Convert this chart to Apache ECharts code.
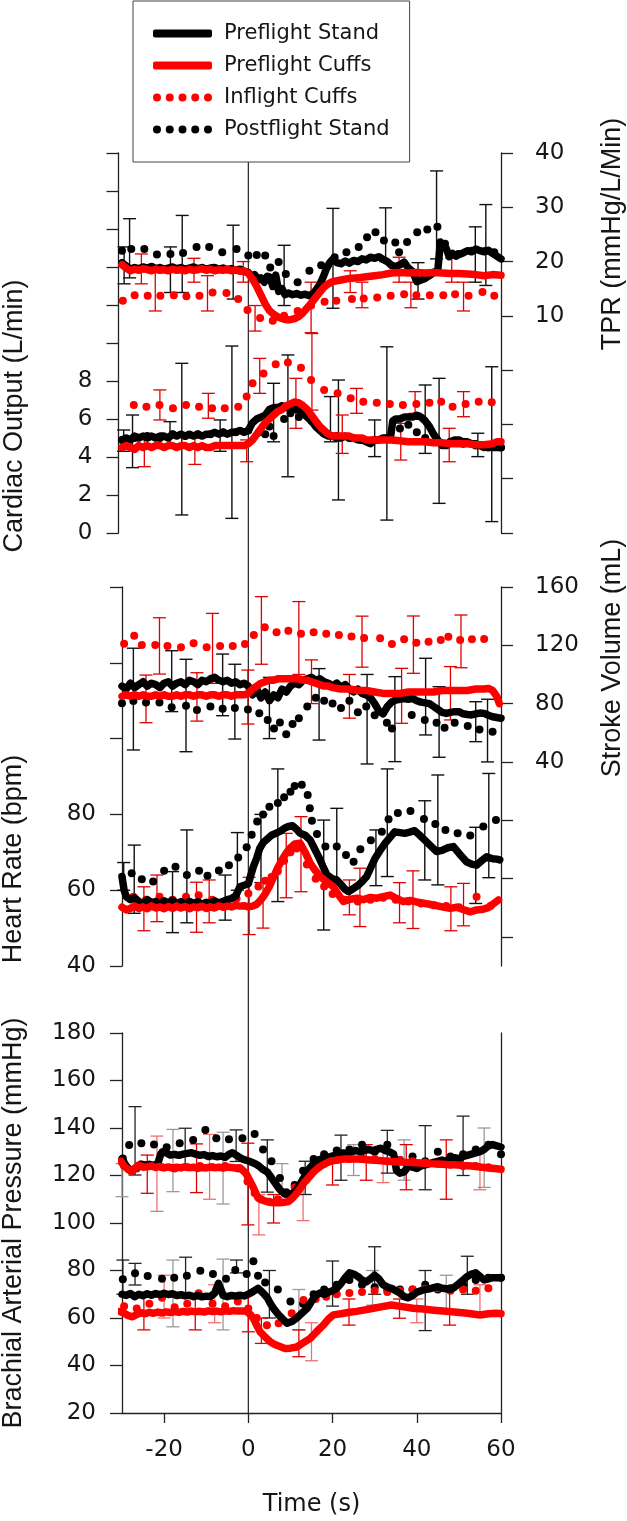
<!DOCTYPE html>
<html><head><meta charset="utf-8">
<script src="https://cdn.jsdelivr.net/npm/echarts@6/dist/echarts.min.js"></script>
<style>html,body{margin:0;padding:0;background:#fff}#c{width:627px;height:1521px}</style>
</head><body><div id="c"></div>
<script>
// ---------- data ----------
const timeTicks = [-20, 0, 20, 40, 60];
const coLabels = [0, 2, 4, 6, 8];
const tprLabels = [10, 20, 30, 40];
const hrLabels = [40, 60, 80];
const svTicks = [-80, -40, 0, 40, 80, 120, 160];
const svLabels = [40, 80, 120, 160];
const refLine = [[0, 0], [0, 1]];

// TPR (mmHg/L/min)
const tprPreStand = [[-30,19.8],[-29,19.2],[-28,18.6],[-27,18.9],[-26,18.7],[-25,19.0],[-24,18.8],[-23,19.1],[-22,18.7],[-21,18.9],[-20,18.6],[-19,18.8],[-18,19.0],[-17,18.7],[-16,18.9],[-15,18.6],[-14,18.8],[-13,19.0],[-12,18.7],[-11,18.9],[-10,18.6],[-9,18.8],[-8,18.9],[-7,18.6],[-6,18.8],[-5,18.5],[-4,18.7],[-3,18.4],[-2,18.6],[-1,18.2],[0,18.0],[0.8,17.2],[1.5,17.6],[2.3,16.6],[3,17.0],[3.8,16.2],[4.5,17.3],[5.2,17.1],[5.8,15.4],[6.5,17.5],[7.2,14.5],[8,15.0],[8.7,13.9],[9.5,14.2],[10.5,13.9],[11.5,14.1],[12.5,13.8],[13.5,14.0],[14.5,13.7],[15.5,14.2],[16.3,15.0],[17,15.8],[17.8,17.2],[18.5,18.6],[19.3,19.8],[20,20.4],[21,19.8],[22,19.6],[23,20.1],[24,19.7],[25,20.2],[26,20.0],[27,20.5],[28,20.3],[29,20.8],[30,20.6],[31,20.9],[32,20.4],[33,20.0],[34,19.3],[35,19.1],[36,19.4],[37,19.9],[38,18.8],[39,18.2],[40,16.3],[41,16.6],[42,16.9],[43,17.4],[44,18.0],[45,18.4],[45.6,23.6],[46.3,23.0],[47,22.4],[47.7,20.9],[48.5,21.5],[49.3,21.0],[50,21.3],[51,21.6],[52,22.0],[53,21.8],[54,22.3],[55,22.0],[56,21.8],[57,22.1],[58,21.5],[59,21.0],[60,20.5]];
const tprPreCuffs = [[-30,19.4],[-29,18.8],[-28,18.3],[-27,18.6],[-26,18.4],[-25,18.7],[-24,18.5],[-23,18.3],[-22,18.6],[-21,18.4],[-20,18.5],[-19,18.3],[-18,18.6],[-17,18.4],[-16,18.5],[-15,18.3],[-14,18.6],[-13,18.4],[-12,18.5],[-11,18.7],[-10,18.4],[-9,18.6],[-8,18.3],[-7,18.5],[-6,18.4],[-5,18.6],[-4,18.3],[-3,18.5],[-2,18.2],[-1,18.3],[0,17.8],[1,16.8],[2,15.4],[3,13.8],[4,12.2],[5,11.0],[6,10.3],[7,9.8],[8,9.5],[9,9.3],[10,9.3],[11,9.5],[12,9.9],[13,10.6],[14,11.5],[15,12.4],[16,13.4],[17,14.4],[18,15.3],[19,15.9],[20,16.3],[22,16.6],[24,16.9],[26,17.0],[28,17.2],[30,17.4],[32,17.6],[34,17.9],[36,18.0],[38,17.9],[40,18.0],[42,17.9],[44,18.0],[46,17.9],[48,17.8],[50,17.8],[52,17.7],[54,17.6],[56,17.4],[58,17.6],[60,17.5]];
const tprInCuffs = [[-29.8,12.8],[-27,13.8],[-23.9,13.7],[-20.9,13.7],[-17.7,13.8],[-14.7,13.6],[-11.6,13.7],[-8.5,14.3],[-5.2,14.2],[-2.4,13.1],[-0.2,11.1],[2.8,9.6],[5.8,9.1],[8.5,10.0],[11.7,10.9],[14.9,11.9],[18.1,12.6],[20.9,12.8],[24.6,13.1],[27.4,13.2],[30.6,13.4],[33.8,13.7],[37,14.0],[39.9,13.8],[43.1,13.8],[46.3,13.8],[49.1,14.0],[52.3,13.7],[55.6,14.4],[58.4,13.7]];
const tprPostStand = [[-30,22.0],[-27.8,22.3],[-24.7,22.3],[-21.7,21.3],[-18.5,21.4],[-15.5,21.6],[-12.3,22.7],[-9.3,22.7],[-6.2,21.7],[-2.8,22.3],[0,21.1],[2,21.2],[4,21.1],[5.2,18.9],[7.2,19.9],[8.9,17.7],[11.7,16.2],[14.5,18.3],[17.3,19.3],[20.5,20.8],[23.3,21.7],[26.2,22.7],[28.2,24.5],[30.2,25.4],[32.2,23.9],[34.9,23.5],[35.8,21.7],[37.7,23.6],[40.1,25.4],[42.5,25.9],[44.9,26.4],[46.7,23.3],[49.9,21.4],[53.1,22.0],[56.4,22.0],[58.4,21.7]];
const tprErrBlack = [[-29.5,15.9,22.7],[-28.2,17,27.9],[-18.5,14.3,22.7],[-15.7,14.3,28.5],[-3.6,13.1,26.7],[8.5,11.9,23.0],[20.1,11.4,29.8],[32.6,20.0,29.9],[40.3,13.1,19.8],[44.7,20.5,36.7],[53.9,16.2,26.4],[56.4,15.6,30.5]];
const tprErrRed = [[-25.4,15.9,21.4],[-22.1,10.9,18.0],[-12.9,16.2,20.6],[-9.7,10.9,17.4],[-1.2,16.2,20.0],[1.6,7.2,11.9],[14.9,6.9,16.2],[24.2,14.3,18.3],[27,11.5,16.2],[35.8,16.2,20.8],[38.6,11.5,16.2],[48.3,16.2,20.6],[51.1,10.9,16.2]];

// Cardiac output (L/min)
const coPreStand = [[-30,4.9],[-29,5.0],[-28,4.9],[-27,5.1],[-26,5.0],[-25,5.1],[-24,5.0],[-23,5.1],[-22,5.0],[-21,5.1],[-20,5.1],[-19,5.0],[-18,5.2],[-17,5.1],[-16,5.2],[-15,5.1],[-14,5.2],[-13,5.1],[-12,5.2],[-11,5.1],[-10,5.2],[-9,5.2],[-8,5.3],[-7,5.2],[-6,5.3],[-5,5.2],[-4,5.3],[-3,5.3],[-2,5.4],[-1,5.3],[0,5.4],[1,5.8],[2,6.0],[3,6.1],[4,6.2],[5,6.5],[6,6.6],[7,6.6],[8,6.7],[9,6.6],[10,6.6],[11,6.5],[12,6.5],[13,6.3],[14,6.1],[15,5.9],[16,5.6],[17,5.4],[18,5.2],[19,5.1],[20,5.1],[21,5.0],[22,5.0],[23,5.1],[24,5.0],[25,5.0],[26,4.9],[27,4.9],[28,4.8],[29,4.7],[30,4.9],[31,4.9],[32,5.0],[33,5.0],[33.8,5.1],[34.3,5.9],[35,6.0],[36,6.0],[37,6.1],[38,6.1],[39,6.1],[40,6.2],[41,6.1],[42,5.9],[43,5.6],[44,5.2],[45,4.9],[46,4.6],[47,4.6],[48,4.8],[49,4.9],[50,4.9],[51,4.8],[52,4.8],[53,4.7],[54,4.7],[55,4.6],[56,4.5],[57,4.6],[58,4.5],[59,4.5],[60,4.5]];
const coPreCuffs = [[-30,4.5],[-29,4.6],[-28,4.5],[-27,4.4],[-26,4.6],[-25,4.5],[-24,4.6],[-23,4.5],[-22,4.6],[-21,4.6],[-20,4.5],[-19,4.6],[-18,4.6],[-17,4.5],[-16,4.6],[-15,4.6],[-14,4.5],[-13,4.6],[-12,4.5],[-11,4.6],[-10,4.5],[-9,4.5],[-8,4.6],[-7,4.6],[-6,4.6],[-5,4.6],[-4,4.6],[-3,4.6],[-2,4.6],[-1,4.6],[0,4.7],[1,4.9],[2,5.2],[3,5.5],[4,5.8],[5,6.0],[6,6.2],[7,6.4],[8,6.5],[9,6.7],[10,6.8],[11,6.9],[12,6.85],[13,6.7],[14,6.5],[15,6.2],[16,5.9],[17,5.6],[18,5.4],[19,5.2],[20,5.1],[21,5.1],[22,5.1],[23,5.1],[24,5.1],[25,5.0],[26,5.0],[27,5.0],[28,4.9],[29,4.9],[30,4.9],[32,4.9],[34,4.9],[36,4.85],[38,4.8],[40,4.8],[42,4.8],[44,4.75],[46,4.75],[48,4.7],[50,4.7],[52,4.7],[54,4.65],[56,4.65],[58,4.7],[59,4.8],[60,4.8]];
const coInCuffs = [[-30.1,7.05],[-27.2,6.74],[-24.2,6.65],[-21.1,6.74],[-17.9,6.56],[-14.8,6.74],[-11.7,6.65],[-8.6,6.56],[-5.6,6.56],[-2.4,6.65],[-0.4,7.18],[1,7.88],[3.6,8.4],[6.5,8.88],[9.4,8.98],[12.5,8.7],[14.9,8.05],[18,7.53],[21.2,7.35],[24.3,7.09],[27.3,6.91],[30.5,6.86],[33.6,6.79],[36.7,6.74],[39.9,6.79],[43,6.86],[45.8,6.91],[48.5,6.65],[51.6,6.79],[54.7,6.91],[57.8,6.88]];
const coPostStand = [[-30,4.9],[-27,5.0],[-24,5.1],[-21,5.0],[-18,5.2],[-15,5.1],[-12,5.2],[-9,5.2],[-6,5.3],[-3,5.3],[0,5.4],[2.5,5.3],[4,5.2],[5,5.6],[6,5.1],[8.5,6.0],[10,6.3],[12,6.1],[15,5.9],[18,5.3],[21,5.1],[24,5.0],[27,4.9],[30,4.9],[33,5.0],[36,5.5],[38,5.7],[40,5.3],[42,5.0],[45,4.8],[48,4.8],[51,4.7],[54,4.6],[57,4.5],[60,4.5]];
const coErrBlack = [[-29.6,4.3,5.42],[-27.5,3.44,6.21],[-18.6,4.5,5.86],[-15.8,0.95,8.93],[-6.7,4.3,5.95],[-3.9,0.77,9.84],[6,4.8,7.88],[9.4,2.96,9.37],[19.5,4.8,7.18],[21.4,1.74,8.05],[30,4.02,5.95],[32.9,0.68,9.8],[42,4.19,7.79],[45.3,1.56,8.14],[54.5,4.02,5.25],[57.8,0.6,8.75]];
const coErrRed = [[-24.7,3.49,4.98],[-21,5.95,7.53],[-12.7,3.61,5.0],[-9.5,6.04,7.35],[-0.4,3.75,4.9],[2.7,7.35,9.19],[11.3,5.51,8.14],[15.1,6.47,10.5],[22.3,4.19,6.21],[25.7,6.3,7.61],[36.2,3.84,5.77],[39.6,6.3,7.44],[47.7,3.75,5.51],[51.1,6.12,7.44]];

// Stroke volume (mL)
const svPreStand = [[-30,92],[-29,90],[-28,94],[-27,91],[-26,93],[-25,95],[-24,92],[-23,94],[-22,93],[-21,91],[-20,94],[-19,95],[-18,92],[-17,94],[-16,95],[-15,93],[-14,96],[-13,95],[-12,93],[-11,96],[-10,95],[-9,97],[-8,98],[-7,96],[-6,95],[-5,96],[-4,94],[-3,95],[-2,93],[-1,94],[0,92],[1,86],[2,90],[3,84],[4,88],[5,82],[6,86],[7,84],[8,90],[9,88],[10,92],[11,94],[12,93],[13,96],[14,97],[15,98],[16,96],[17,97],[18,95],[19,94],[20,92],[21,94],[22,91],[23,93],[24,90],[25,88],[26,90],[27,87],[28,86],[29,84],[30,80],[31,75],[32,73],[33,78],[34,81],[35,82.5],[36,83],[37,83.5],[38,83],[39,83.6],[40,82],[41,81],[42,80.5],[43,80],[44,78],[45,76],[46,74],[47,73.3],[48,74],[49,74.5],[50,74.5],[51,73],[52,72.5],[53,72.2],[54,73],[55,73.5],[56,73.3],[57,72],[58,71],[59,70.5],[60,70]];
const svPreCuffs = [[-30,85],[-29,86],[-28,85],[-27,86],[-26,85],[-25,86],[-24,85],[-23,85],[-22,86],[-21,85],[-20,86],[-19,85],[-18,85],[-17,86],[-16,85],[-15,86],[-14,86],[-13,85],[-12,86],[-11,86],[-10,85],[-9,86],[-8,86],[-7,85],[-6,86],[-5,86],[-4,85],[-3,86],[-2,86],[-1,86],[0,87],[1,90],[2,92],[3,94],[4,95],[5,96],[6,96],[7,97],[8,97],[9,97],[10,97],[11,97],[12,97],[13,96],[14,96],[15,95],[16,94],[17,93],[18,92],[19,92],[20,91],[22,90],[24,90],[26,89],[28,89],[30,88],[32,87],[34,87],[36,87],[38,88],[40,88],[42,88],[44,88],[46,89],[48,89],[50,89],[52,89],[54,90],[56,90],[57,90.4],[58,89],[59,85],[59.6,80]];
const svInCuffs = [[-29.5,121],[-27.1,126.6],[-25.3,120.2],[-22.1,120.2],[-19.2,119.5],[-16,118.6],[-13,121.4],[-9.9,118.6],[-6.7,119.5],[-3.7,119.5],[-0.8,120.9],[1.3,127.1],[3.9,132.4],[6.7,128.9],[9.5,130],[12.5,128],[15.5,129],[18.5,128],[21.5,127],[24.5,126],[27.5,125],[31.3,124.8],[34.1,120.9],[37,124.1],[39.9,121.8],[42.8,122.5],[45.7,123.6],[47.5,125.9],[50.3,123.6],[53.1,124.1],[56,124.3]];
const svPostStand = [[-30,80.2],[-27.3,81.8],[-24.3,80.8],[-21.1,80.8],[-18.2,77.5],[-14.8,78.6],[-12.2,75.6],[-9,78],[-6.1,76.5],[-3.2,77],[-0.1,76],[2.6,73.4],[4.6,68.8],[6.1,63],[7.5,67],[9,59],[10.5,66],[12,70],[14,78],[16,84],[18,82],[20,80],[22,77],[24,82],[26,74],[28,78],[30,72],[32.9,66.9],[34.1,63],[38.8,72.2],[41.9,68.8],[44.7,66.9],[46.6,63.5],[49,66.9],[52.1,64.6],[54.9,62.3],[58,60.7]];
const svErrBlack = [[-27.3,48.2,118],[-18.2,74.5,116.3],[-14.8,47,110.4],[-6.1,71.7,114],[-3.2,55.7,107],[5,56,98],[16.8,55,104],[28.2,38.6,100],[34.8,40.2,98.5],[42.1,58.5,111.1],[45.3,43.2,91.6],[54,53.9,81.3],[56.8,40,83]];
const svErrRed = [[-24.3,66.9,99.6],[-21.1,100.3,138.9],[-12.2,68,101.2],[-8.5,93.9,141.9],[-0.1,66,103],[3.1,107,153.4],[12,100,150],[15,80,110],[24,70,100],[27,105,140],[36.4,66.5,104.2],[39.2,100.8,140.1],[48,68.8,105.4],[50.5,104.6,140.8]];

// Heart rate (bpm)
const hrPreStand = [[-30,63.6],[-29.5,60],[-29,58.3],[-28,57.5],[-27,58],[-26,57],[-25,56.5],[-24,57.5],[-23,56.8],[-22,57],[-21,56.3],[-20,57.2],[-19,56.6],[-18,57.4],[-17,56.5],[-16,57],[-15,56.3],[-14,57.1],[-13,56.5],[-12,57],[-11,56.2],[-10,56.8],[-9,56.5],[-8,57.2],[-7,56.6],[-6,57],[-5,57.5],[-4,57.8],[-3,58.5],[-2,60.9],[-1,61.3],[0,61.7],[0.6,64],[1.2,66.2],[2,68.5],[2.7,71],[3.5,72.5],[4.5,73.5],[5.5,74.5],[6.5,75],[7.5,75.5],[8.5,76.3],[9.5,76.8],[10.5,77],[11.5,76],[12.3,75],[13.5,74.5],[14.7,73.2],[15.7,71],[16.7,68.8],[17.7,66.3],[18.7,64],[20,63],[21,62.7],[22,61.5],[23,60.2],[23.8,59.6],[25,60.5],[26.2,61.4],[27.2,62.5],[28.1,63.6],[29,65.8],[30.1,68.4],[31.3,70.5],[32.5,72.4],[33.7,74],[34.8,75.4],[36,75.2],[37.2,75],[38.3,75.3],[39.5,75.7],[40.7,74.5],[41.9,73.2],[43.3,71.7],[44.7,70.2],[46,70.5],[47.3,71.2],[48.7,71.5],[50.2,69.5],[51.8,67.5],[53,66.9],[54.2,66.6],[55.4,67.8],[56.6,68.8],[58,68.3],[59,68.2],[59.7,68]];
const hrPreCuffs = [[-30,55.5],[-29,54.8],[-28,55.2],[-27,55.8],[-26,55.2],[-25,55.6],[-24,55.1],[-23,55.9],[-22,55.3],[-21,55.6],[-20,55.1],[-19,55.7],[-18,55.2],[-17,55.8],[-16,55.3],[-15,55.7],[-14,55.1],[-13,55.6],[-12,55.4],[-11,55.8],[-10,55.2],[-9,55.6],[-8,55.3],[-7,55.9],[-6,55.5],[-5,55.8],[-4,55.6],[-3,56],[-2,55.8],[-1,55.9],[0,55.6],[1,55.8],[2,56.3],[3,57.5],[4,59],[5,61],[6,63.5],[7,66],[8,68],[9,69.8],[10,71.2],[11,72.2],[12.3,72.4],[13.5,70],[14.7,67.1],[15.9,65.2],[17.1,63.6],[18.6,62.2],[20.2,60.9],[21.4,58.8],[22.6,57],[24.2,57.6],[25.8,57.9],[27.3,57.5],[29,58.1],[30.5,57.9],[32,58.3],[33.7,58.7],[35.2,57.8],[36.8,57],[38.5,57.3],[40.3,56.8],[42,56.5],[44,56.1],[46,55.6],[47.9,55.2],[49.5,55.5],[51,54.9],[52.7,54.3],[54.2,54.8],[55.8,55],[57,55.4],[57.8,56.1],[59.4,57.4]];
const hrInCuffs = [[-30.1,57],[-27.3,58.3],[-24.3,57.5],[-21.1,58.3],[-18,57.5],[-14.8,58.3],[-11.8,58.7],[-8.6,57.5],[-5.9,57],[-2.8,57.8],[0,59.1],[2.4,61],[4,62.5],[5.5,63.5],[7,65],[8.5,67.8],[10,70],[11.5,71],[13.9,66.8],[16,63],[18,61],[20,59],[23,57.5],[26,57],[29,57.5],[32,58],[35,57.5],[38,57],[41,56.5],[44,56],[47,55.8],[50,55.5],[54.2,58.3],[57.5,55.8]];
const hrPostStand = [[-30.1,63.6],[-27.7,64.5],[-25.3,62.9],[-22.6,62.3],[-20,65.1],[-17.3,66.2],[-14.6,64],[-11.7,65.1],[-9.7,63.8],[-7,65.2],[-4.6,66.6],[-2.4,68.6],[-0.4,71.3],[0.8,74.6],[2.1,78.1],[3.5,80],[5,82],[7,83],[8.5,84.5],[10,86],[11,87.5],[12.7,87.8],[14.1,85.1],[14.6,81.6],[15.1,78.3],[16.3,74.8],[18.3,71.5],[21,71.5],[23.2,69.3],[25,67.5],[26.6,70.8],[29.1,73.2],[31.7,75.4],[33.3,78.7],[35.5,80.4],[38.5,80.9],[41.7,78.8],[44.4,77.5],[46.8,75.9],[49.7,75],[52.7,74.4],[55.8,76.8],[58.8,78.5]];
const hrErrBlack = [[-29.6,60,67.3],[-27.1,53.9,71.9],[-18,48.8,64.9],[-14.6,51.4,75.9],[-5.5,52.1,64],[-2.6,60,75.2],[3,62,80],[7,57,92],[17.9,49.5,78.5],[21,62,81.6],[30.3,61.2,75.9],[33,63.6,92],[41.9,62.7,83.6],[45,61.4,90.4],[54,56.5,76.6],[57.1,63.3,90.8]];
const hrErrRed = [[-24.8,49.3,60.9],[-21.7,51.7,64],[-12.3,48.9,62.1],[-9.3,51.4,62.7],[0.2,48.3,63.4],[3.5,50,62],[9,58,75],[12.5,59.6,79.4],[24,53.5,62.7],[26.5,50.4,65.8],[35.9,51.4,62],[39.1,49.9,65.1],[48.1,49.3,60.9],[51.1,50.6,61.8]];

// Brachial arterial pressure (mmHg): systolic (sbp) and diastolic (dbp)
const sbpPreStand = [[-30,127],[-29,124],[-28,122],[-27.5,122.3],[-26.5,123.5],[-25.5,124.8],[-24.4,124.4],[-23.5,124.7],[-22.5,124.2],[-21.5,125],[-20.8,129],[-20.4,130],[-19.5,129.5],[-18.5,128.6],[-17.5,128.9],[-16.5,128.5],[-15.5,129],[-14.5,129.3],[-13.5,129.6],[-12.5,129],[-11.5,128.5],[-10.5,128.8],[-9.5,128],[-8.5,128.4],[-7.5,127.9],[-6.5,128.2],[-5.5,127.6],[-4.7,128.8],[-3.8,129.6],[-3,128.7],[-2,127.5],[-1.2,126.8],[-0.6,126.5],[0.5,125.8],[1.5,125.1],[2.5,124],[3.5,122.5],[4.5,121.5],[5.5,119],[6.5,116.5],[7.5,114],[8.5,112.5],[9.5,112],[10.5,112.5],[11.5,114],[12.5,117],[13.5,120],[14.5,123],[15.5,125],[16.5,126.5],[17.5,127],[18.5,127.5],[19.5,128],[20.5,128.5],[21.5,129],[22.5,129.5],[23.5,129],[24.5,130],[25.5,130.5],[26.5,130],[27.5,130.5],[28.5,131],[29.5,130.5],[30.5,131],[31.5,131.5],[32.5,130.5],[33.5,130],[34.5,129],[35.2,122],[36,121],[37,121.5],[38,124],[39,123.5],[40,123],[41,124],[42,124.5],[43,125],[44,125.5],[45,126],[46,126.5],[47,126],[48,127],[49,127.5],[50,127],[51,128],[52,128.5],[53,129],[54,129.5],[55,130],[56,131],[57,132.5],[58,133],[59,132.5],[60,132]];
const sbpPreCuffs = [[-30.3,126],[-29.5,124],[-28.5,122.5],[-27.7,121.7],[-27,123],[-26,124.4],[-25,123.5],[-24,123.7],[-23,124],[-22,123.4],[-21,123.8],[-20,123.2],[-19,123.6],[-18,123.1],[-17,123.5],[-16,123.2],[-15,123.7],[-14,123.3],[-13,123.5],[-12,123],[-11,123.4],[-10,123.2],[-9,123.6],[-8,123.3],[-7,123.5],[-6,123.1],[-5,123.5],[-4,123.4],[-3,123.2],[-2,123.3],[-1.6,123],[-0.6,121],[0.3,118],[1.1,115.3],[2.3,110.5],[3.5,109.5],[4.5,109],[5.5,108.6],[6.5,108.5],[7.5,108.5],[8.5,108.7],[9.5,109],[10.5,110.5],[11.5,112.5],[12.5,115],[13.5,117.5],[14.5,119.5],[15.5,121.5],[16.5,123],[17.5,124.3],[18.5,125.2],[19.5,126],[21,126.5],[23,127],[25,127],[27,126.8],[29,126.5],[31,126.3],[33,126],[35,125.8],[37,125.6],[39,125.5],[41,125.3],[43,125],[45,124.8],[47,124.6],[49,124.5],[51,124.2],[53,124],[55,123.6],[57,123.2],[59,122.8],[60,122.6]];
const sbpInCuffs = [[-29.5,124],[-26.5,123],[-23.5,124],[-20.5,123.5],[-17.5,123],[-14.5,123.5],[-11.5,124],[-8.5,123.5],[-5.5,124],[-2.5,123],[-0.2,117.5],[1.5,112.6],[3,110],[5,109],[7,110],[9,112],[11,115],[13,118],[15.5,122],[18,125],[21,126.5],[24,127],[27,127.5],[30,127],[33,126],[36,126.5],[39,126],[42,125.5],[45,125],[48,124.5],[51,124],[54,124],[57,123.5]];
const sbpPostStand = [[-29.8,127.2],[-28.3,132.8],[-25.4,133.6],[-22.4,133.1],[-19.4,131.9],[-16.3,133.6],[-13.1,135],[-10.2,139.2],[-7.6,135.7],[-4.6,135.3],[-1.4,135.7],[1.5,137.5],[3.5,131],[5.5,126],[7.5,119],[9,113],[11,116],[13,122],[15.5,127],[18,129],[21,130.5],[24,131],[27,133],[30,130],[33,133],[36,126.5],[39,128],[42,126],[45,130],[48,128],[51,129],[54,131],[57,133],[60,129]];
const dbpPreStand = [[-30,70],[-29,69.5],[-28,70.3],[-27,69],[-26,70],[-25,69.4],[-24,70.2],[-23,69.6],[-22,70.3],[-21,69.8],[-20,70.4],[-19,69.9],[-18,70.2],[-17,69.5],[-16,69.8],[-15,69.3],[-14,69.6],[-13,69],[-12,69.4],[-11,68.9],[-10,69.2],[-9,69],[-8,70.5],[-7.1,74.6],[-6.5,72],[-6,69.5],[-5,69],[-4,69.5],[-3,69.2],[-2,69.6],[-1,69.3],[0,70],[1,71],[2.3,72.5],[3.5,70.5],[4.5,68.5],[5.2,66.2],[6.2,63.5],[7.2,61.3],[8.2,59.5],[9.2,57.8],[10.3,58.5],[11.5,60],[12.7,62],[14,64.1],[15,67],[16,69.5],[17,70.5],[18,70],[19,70.8],[20,71.5],[21,72.5],[22,74.5],[23,77],[24,79],[25,78.5],[26,77.5],[27,76],[28,75.2],[29,76.5],[30,78],[31,76.5],[32,74],[33,73],[34,72.5],[35,71.5],[36,70.5],[37,69],[38,68.5],[39,69.5],[40,70.8],[41,71.5],[42,72],[43,72.3],[44,72.8],[45,73.2],[46,72.5],[47,72.3],[48,72],[49,73],[50,74.5],[51,76],[52,77.5],[53,78.5],[54,79],[55,77.5],[56,76],[57,76.5],[58,77],[59,77],[60,77]];
const dbpPreCuffs = [[-30.5,62.7],[-29.5,62],[-28.5,61],[-27.5,60.5],[-26.5,61.5],[-25.5,62.2],[-24.5,61.8],[-23.5,62.4],[-22.5,62],[-21.5,62.5],[-20.5,62.1],[-19.5,62.6],[-18.5,62.3],[-17.5,62.7],[-16.5,62.4],[-15.5,62.8],[-14.5,62.5],[-13.5,62.9],[-12.5,62.6],[-11.5,62.8],[-10.5,62.5],[-9.5,63],[-8.5,62.7],[-7.5,62.9],[-6.5,62.6],[-5.5,63],[-4.5,62.8],[-3.5,63.1],[-2.5,62.9],[-1.5,63],[-0.5,62.8],[0.5,61.5],[1.4,59.2],[2.1,56.5],[2.8,54.2],[4,52],[5.2,50],[6.3,48.8],[7.5,48],[8.7,47.2],[10,47.3],[11.5,47.8],[13,49.5],[14.7,51.4],[16.2,54.2],[17.8,57],[19,59.5],[20.2,61.3],[22,61.8],[24,62.4],[25.7,62.8],[27.7,63.4],[29.7,64.1],[31.8,64.8],[34,65.5],[36.5,64.8],[39.1,64.1],[41.5,63.8],[44,63.3],[47,62.8],[49.5,62.4],[52,62],[55,61.3],[57,61.8],[58.9,62],[60,61.8]];
const dbpInCuffs = [[-29.5,65],[-26.5,64],[-23.5,66],[-20.5,68.5],[-17.5,64.5],[-14.5,66],[-11.8,70.4],[-8.5,66],[-5.5,65],[-2.5,67],[0,64],[2,60],[4.4,57],[7.2,57.8],[10.3,62],[13.1,67.6],[16,68],[18.5,69],[21,70],[24,70.5],[27,71],[30,71.5],[33,71],[36,71.5],[39,72],[42,72.3],[45,72.5],[48,71.5],[51,72],[54,71.5],[57,72.5]];
const dbpPostStand = [[-29.8,76.3],[-26.9,78.8],[-23.9,77.7],[-20.5,76.5],[-17.6,77],[-14.6,77.8],[-11.4,79.9],[-8.4,78.5],[-5.3,76.5],[-3.1,80.2],[-0.4,78.5],[1.2,83.9],[2.3,77.8],[4,75],[7,72],[10,67],[13,66],[15.5,70],[18,72],[21,74],[24,76],[27,74],[30,73],[33,72],[36,72],[39,72],[42,74],[45,72],[48,72.5],[51,74],[54,76],[57,77],[60,77]];
const bpErrBlack = [[-26.9,120.2,149],[-15,124.4,139.9],[-2.9,125.9,139.2],[4.5,113,135],[13.5,112,126],[22,118,137],[33,121,139],[42,114,141],[51,120,145],[-29.8,70,84.4],[-26.9,73.9,83],[-14.9,70,85.6],[-2.8,79,84.4],[5,60,80],[20,65,84],[30,70,90],[42,54.7,80],[52,70,86]];
const bpErrGrey = [[-30,111.1,125],[-17.9,113.2,139.4],[-6,108,138.2],[8,108,125],[25,120,133],[37,118,135],[56,115,140],[-17.9,56.3,84.4],[-6,55,84.8],[12,55,72],[29.5,65.4,80],[47,62,78]];
const bpErrRed = [[-24,112.5,128.6],[-12.3,112.8,133.3],[-0.1,99.2,133.6],[6,100,112],[20,116,128],[28,118,133],[37.5,114,133],[47,110,135],[-24.8,55,69],[-12.6,55,70],[0,54.2,70],[3.1,49.3,60],[12,43.7,55],[23.9,57,68],[35.9,59.9,68],[47.8,57,73]];
const bpErrPink = [[-21.7,104.9,136.6],[-9.2,110,137.3],[2.5,95,112],[13,101,117],[32,117,130],[55,114,131],[-20,60,78],[-8,58,74],[15,42,58],[40,58,68],[55,62,74]];

// ---------- chart ----------
const BLACK = '#000000', RED = '#ff0000', AX = '#222222', TXT = '#161616';
const NUM_FONT = 'DejaVu Sans';
const TITLE_FONT = '"Liberation Sans", Arial, sans-serif';
const dots = 'path://M0,4a4,4 0 1,0 8,0a4,4 0 1,0 -8,0M12.75,4a4,4 0 1,0 8,0a4,4 0 1,0 -8,0M25.5,4a4,4 0 1,0 8,0a4,4 0 1,0 -8,0M38.25,4a4,4 0 1,0 8,0a4,4 0 1,0 -8,0M51,4a4,4 0 1,0 8,0a4,4 0 1,0 -8,0';

function errRender(color, width) {
  return function (params, api) {
    const x = api.value(0), lo = api.value(1), hi = api.value(2);
    const p1 = api.coord([x, lo]), p2 = api.coord([x, hi]);
    const hw = 6.5, st = { stroke: color, lineWidth: width };
    return { type: 'group', children: [
      { type: 'line', shape: { x1: p1[0], y1: p1[1], x2: p2[0], y2: p2[1] }, style: st },
      { type: 'line', shape: { x1: p1[0] - hw, y1: p1[1], x2: p1[0] + hw, y2: p1[1] }, style: st },
      { type: 'line', shape: { x1: p2[0] - hw, y1: p2[1], x2: p2[0] + hw, y2: p2[1] }, style: st }
    ] };
  };
}
function lineS(name, data, xi, yi, color, z) {
  return { type: 'line', name, data, xAxisIndex: xi, yAxisIndex: yi, color, showSymbol: false, symbol: 'none',
    lineStyle: { color, width: 7.5, cap: 'round', join: 'round' }, itemStyle: { color }, z, silent: true };
}
function dotS(name, data, xi, yi, color, z) {
  return { type: 'scatter', name, data, xAxisIndex: xi, yAxisIndex: yi, color, symbolSize: 8,
    itemStyle: { color, opacity: 1 }, z, silent: true };
}
function errS(data, xi, yi, color, w) {
  return { type: 'custom', name: 'err', data, xAxisIndex: xi, yAxisIndex: yi, renderItem: errRender(color, w),
    encode: { x: 0, y: [1, 2] }, z: 1, silent: true, clip: false };
}
function yAx(grid, pos, min, max, extra) {
  return Object.assign({
    type: 'value', gridIndex: grid, position: pos, min, max,
    axisLine: { show: true, onZero: false, lineStyle: { color: AX, width: 1.3 } },
    axisTick: { show: true, inside: false, length: 12, lineStyle: { color: AX, width: 1.3 } },
    axisLabel: { show: true, color: TXT, fontFamily: NUM_FONT, fontSize: 23, margin: pos === 'left' ? 26 : 34 },
    splitLine: { show: false }
  }, extra || {});
}
function xHidden(grid) {
  return { type: 'value', gridIndex: grid, min: -30, max: 60, show: false, splitLine: { show: false } };
}

const chart = echarts.init(document.getElementById('c'), null, { renderer: 'canvas' });
const option = {
  animation: false,
  backgroundColor: '#ffffff',
  grid: [
    { left: 122, right: 126, top: 153, height: 380, outerBoundsMode: 'none' },
    { left: 122, right: 126, top: 587, height: 379, outerBoundsMode: 'none' },
    { left: 122, right: 126, top: 1033, height: 380, outerBoundsMode: 'none' },
    { left: 122, right: 126, top: 161, height: 1252, outerBoundsMode: 'none' }
  ],
  legend: {
    data: [
      { name: 'Preflight Stand', icon: 'roundRect' },
      { name: 'Preflight Cuffs', icon: 'roundRect' },
      { name: 'Inflight Cuffs', icon: dots },
      { name: 'Postflight Stand', icon: dots }
    ],
    orient: 'vertical', left: 133, top: 1, itemWidth: 59, itemHeight: 8, itemGap: 11,
    padding: [22, 20, 22, 20], borderColor: '#444', borderWidth: 1, backgroundColor: '#fff',
    selectedMode: false,
    textStyle: { fontFamily: NUM_FONT, fontSize: 21, color: TXT, padding: [0, 0, 0, 7] }
  },
  xAxis: [
    xHidden(0), xHidden(1),
    { type: 'value', gridIndex: 2, min: -30, max: 60,
      axisLine: { show: true, onZero: false, lineStyle: { color: AX, width: 1.3 } },
      axisTick: { show: true, inside: false, length: 10, customValues: timeTicks, lineStyle: { color: AX, width: 1.3 } },
      axisLabel: { show: true, customValues: timeTicks, color: TXT, fontFamily: NUM_FONT, fontSize: 23, margin: 26 },
      splitLine: { show: false },
      name: 'Time (s)', nameLocation: 'middle', nameGap: 80,
      nameTextStyle: { color: TXT, fontFamily: NUM_FONT, fontSize: 24 } },
    xHidden(3)
  ],
  yAxis: [
    yAx(0, 'left', 0, 20, { interval: 2, offset: 3.5, axisLabel: { color: TXT, fontFamily: NUM_FONT, fontSize: 23, margin: 26, customValues: coLabels } }),
    yAx(0, 'right', -30, 40, { interval: 10, axisLabel: { color: TXT, fontFamily: NUM_FONT, fontSize: 23, margin: 34, customValues: tprLabels } }),
    yAx(1, 'left', 40, 140, { interval: 20, axisLabel: { color: TXT, fontFamily: NUM_FONT, fontSize: 23, margin: 26, customValues: hrLabels } }),
    yAx(1, 'right', -100, 160, { axisTick: { show: true, inside: false, length: 12, customValues: svTicks, lineStyle: { color: AX, width: 1.3 } },
      axisLabel: { color: TXT, fontFamily: NUM_FONT, fontSize: 23, margin: 34, customValues: svLabels } }),
    yAx(2, 'left', 20, 180, { interval: 20,
      name: 'Brachial Arterial Pressure (mmHg)', nameLocation: 'middle', nameRotate: 90, nameGap: 95,
      nameTextStyle: { color: TXT, fontFamily: TITLE_FONT, fontSize: 27 } }),
    yAx(2, 'right', 20, 180, { axisTick: { show: false }, axisLabel: { show: false } }),
    { type: 'value', gridIndex: 3, min: 0, max: 1, show: false }
  ],
  graphic: [
    { type: 'text', x: 15, y: 416, rotation: Math.PI / 2, style: { text: 'Cardiac Output (L/min)', font: '27px ' + TITLE_FONT, fill: TXT, align: 'center', verticalAlign: 'middle' } },
    { type: 'text', x: 14, y: 859, rotation: Math.PI / 2, style: { text: 'Heart Rate (bpm)', font: '27px ' + TITLE_FONT, fill: TXT, align: 'center', verticalAlign: 'middle' } },
    { type: 'text', x: 613, y: 234, rotation: Math.PI / 2, style: { text: 'TPR (mmHg/L/Min)', font: '27px ' + TITLE_FONT, fill: TXT, align: 'center', verticalAlign: 'middle' } },
    { type: 'text', x: 613, y: 658, rotation: Math.PI / 2, style: { text: 'Stroke Volume (mL)', font: '27px ' + TITLE_FONT, fill: TXT, align: 'center', verticalAlign: 'middle' } }
  ],
  series: [
    // reference line at t = 0
    { type: 'line', name: 'ref', data: refLine, xAxisIndex: 3, yAxisIndex: 6, showSymbol: false, symbol: 'none',
      lineStyle: { color: AX, width: 1.2 }, z: 0, silent: true },
    // top panel: TPR (right) & CO (left)
    errS(tprErrBlack, 0, 1, '#111', 1.4), errS(tprErrRed, 0, 1, '#e00000', 1.3),
    errS(coErrBlack, 0, 0, '#111', 1.4), errS(coErrRed, 0, 0, '#e00000', 1.3),
    dotS('Postflight Stand', tprPostStand, 0, 1, BLACK, 2), dotS('Inflight Cuffs', tprInCuffs, 0, 1, RED, 2),
    dotS('Postflight Stand', coPostStand, 0, 0, BLACK, 2), dotS('Inflight Cuffs', coInCuffs, 0, 0, RED, 2),
    lineS('Preflight Stand', tprPreStand, 0, 1, BLACK, 3), lineS('Preflight Cuffs', tprPreCuffs, 0, 1, RED, 4),
    lineS('Preflight Stand', coPreStand, 0, 0, BLACK, 3), lineS('Preflight Cuffs', coPreCuffs, 0, 0, RED, 4),
    // middle panel: SV (right) & HR (left)
    errS(svErrBlack, 1, 3, '#111', 1.4), errS(svErrRed, 1, 3, '#e00000', 1.3),
    errS(hrErrBlack, 1, 2, '#111', 1.4), errS(hrErrRed, 1, 2, '#e00000', 1.3),
    dotS('Postflight Stand', svPostStand, 1, 3, BLACK, 2), dotS('Inflight Cuffs', svInCuffs, 1, 3, RED, 2),
    dotS('Postflight Stand', hrPostStand, 1, 2, BLACK, 2), dotS('Inflight Cuffs', hrInCuffs, 1, 2, RED, 2),
    lineS('Preflight Stand', svPreStand, 1, 3, BLACK, 3), lineS('Preflight Cuffs', svPreCuffs, 1, 3, RED, 4),
    lineS('Preflight Stand', hrPreStand, 1, 2, BLACK, 3), lineS('Preflight Cuffs', hrPreCuffs, 1, 2, RED, 4),
    // bottom panel: blood pressure
    errS(bpErrGrey, 2, 4, '#9a9a9a', 1.3), errS(bpErrPink, 2, 4, '#f07070', 1.3),
    errS(bpErrBlack, 2, 4, '#222', 1.3), errS(bpErrRed, 2, 4, '#e00000', 1.3),
    dotS('Postflight Stand', sbpPostStand, 2, 4, BLACK, 2), dotS('Inflight Cuffs', sbpInCuffs, 2, 4, RED, 2),
    dotS('Postflight Stand', dbpPostStand, 2, 4, BLACK, 2), dotS('Inflight Cuffs', dbpInCuffs, 2, 4, RED, 2),
    lineS('Preflight Stand', sbpPreStand, 2, 4, BLACK, 3), lineS('Preflight Cuffs', sbpPreCuffs, 2, 4, RED, 4),
    lineS('Preflight Stand', dbpPreStand, 2, 4, BLACK, 3), lineS('Preflight Cuffs', dbpPreCuffs, 2, 4, RED, 4)
  ]
};
chart.setOption(option);
</script>
</body></html>
